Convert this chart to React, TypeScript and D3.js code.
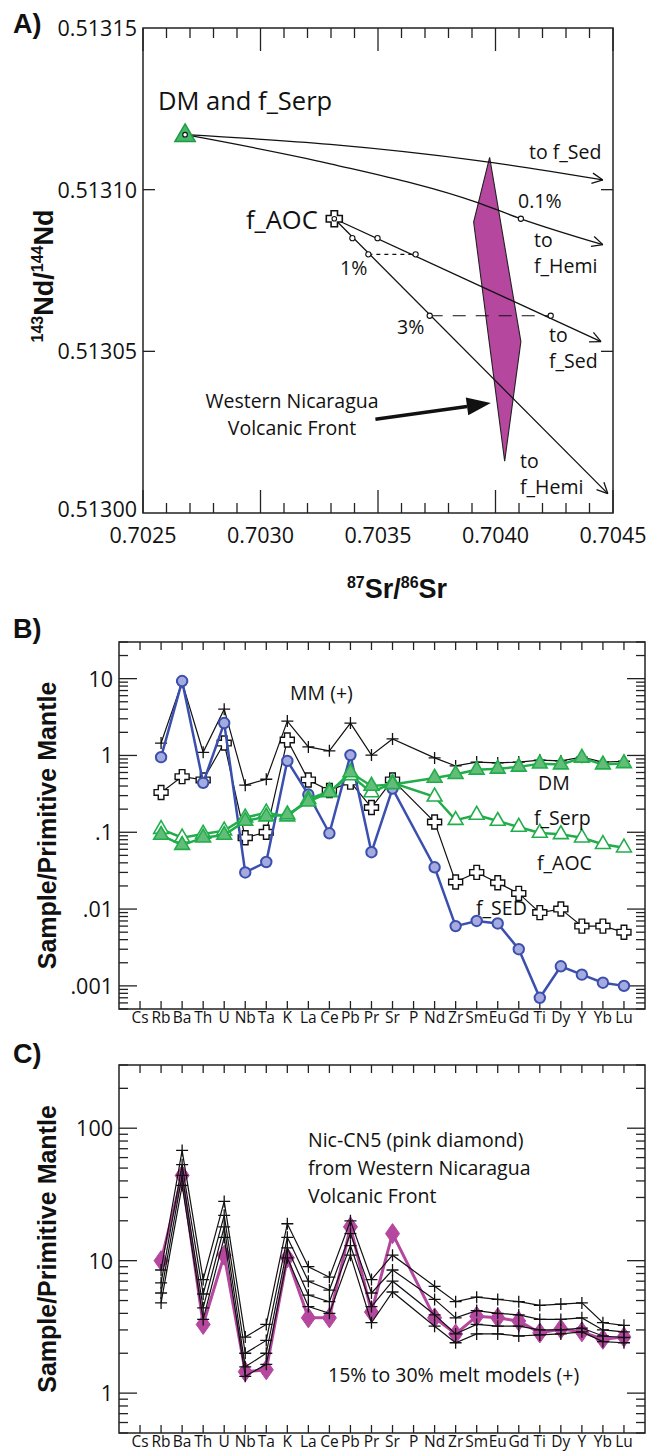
import React, { useEffect, useRef } from 'react';
import * as d3 from 'd3';

const SANS = "'Open Sans', 'Noto Sans', sans-serif";
const BOLD = "'Liberation Sans', Arial, sans-serif";

type Pt = [number, number];

// ---------- Panel A: 87Sr/86Sr vs 143Nd/144Nd ----------
const dmSource: Pt = [0.702679, 0.513117];
const aocSource: Pt = [0.703314, 0.513091];
const dmToSed: Pt[] = [
  [0.702679, 0.513117], [0.703297, 0.513114], [0.703924, 0.513109], [0.704457, 0.513103],
];
const dmToHemi: Pt[] = [
  [0.702679, 0.513117], [0.703297, 0.513108], [0.703924, 0.513096], [0.704108, 0.513091], [0.704457, 0.513083],
];
const aocToSed: Pt[] = [[0.703314, 0.513091], [0.704449, 0.513053]];
const aocToHemi: Pt[] = [[0.703314, 0.513091], [0.704478, 0.513006]];
const mixSteps: Pt[] = [
  [0.704108, 0.513091],
  [0.703498, 0.513085], [0.70366, 0.51308], [0.704235, 0.513061],
  [0.703391, 0.513085], [0.703459, 0.51308], [0.70372, 0.513061],
];
const tie1: Pt[] = [[0.703459, 0.51308], [0.70366, 0.51308]];
const tie3: Pt[] = [[0.70372, 0.513061], [0.704235, 0.513061]];
const wnvfField: Pt[] = [
  [0.703975, 0.51311], [0.704108, 0.513053], [0.704039, 0.513016], [0.703907, 0.51309],
];
const wnvfArrow: Pt[] = [[0.703489, 0.513029], [0.70398, 0.513034]];

// ---------- Panels B and C: spider diagrams ----------
const elements = ['Cs', 'Rb', 'Ba', 'Th', 'U', 'Nb', 'Ta', 'K', 'La', 'Ce', 'Pb', 'Pr', 'Sr', 'P',
  'Nd', 'Zr', 'Sm', 'Eu', 'Gd', 'Ti', 'Dy', 'Y', 'Yb', 'Lu'];

type V = number | null;
const mmValues: V[] = [null, 1.45, 9.0, 1.1, 4.0, 0.41, 0.49, 2.8, 1.29, 1.15, 2.64, 1.01, 1.64, null,
  0.93, 0.73, 0.82, 0.8, 0.82, 0.87, 0.85, 0.95, 0.82, 0.84];
const dmValues: V[] = [null, 0.092, 0.068, 0.085, 0.092, 0.14, 0.16, 0.17, 0.25, 0.33, 0.6, 0.4, 0.42, null,
  0.51, 0.57, 0.65, 0.67, 0.71, 0.78, 0.76, 0.93, 0.76, 0.79];
const serpValues: V[] = [null, 0.11, 0.085, 0.095, 0.105, 0.155, 0.18, 0.16, 0.27, 0.34, 0.55, 0.33, 0.44, null,
  0.29, 0.144, 0.168, 0.14, 0.117, 0.098, 0.094, 0.085, 0.07, 0.063];
const aocValues: V[] = [null, 0.33, 0.53, 0.48, 1.45, 0.085, 0.1, 1.59, 0.48, 0.35, 0.45, 0.21, 0.48, null,
  0.136, 0.0225, 0.03, 0.022, 0.016, 0.009, 0.01, 0.006, 0.006, 0.005];
const sedValues: V[] = [null, 0.95, 9.3, 0.44, 2.64, 0.03, 0.041, 0.85, 0.31, 0.097, 1.01, 0.055, 0.37, null,
  0.035, 0.006, 0.007, 0.0065, 0.003, 0.0007, 0.0018, 0.0014, 0.0011, 0.001];

const nicValues: V[] = [null, 10, 44, 3.3, 11, 1.45, 1.5, 10.5, 3.7, 3.7, 18, 4.1, 16, null,
  3.7, 2.8, 3.8, 3.7, 3.5, 2.85, 3.05, 2.9, 2.55, 2.65];
const melt15: V[] = [null, 8.5, 68, 7.2, 28, 2.65, 3.3, 19, 9.0, 7.5, 20, 7.2, 11, null,
  6.4, 4.9, 5.3, 5.1, 4.9, 4.6, 4.7, 4.8, 3.4, 3.25];
const melt20: V[] = [null, 6.8, 53, 5.6, 22, 2.0, 2.5, 15, 7.0, 6.0, 16, 5.7, 8.5, null,
  5.1, 3.7, 4.2, 4.0, 3.9, 3.6, 3.6, 3.7, 3.0, 2.9];
const melt25: V[] = [null, 5.7, 44, 4.4, 18, 1.58, 2.0, 12.5, 5.5, 4.9, 13, 4.5, 7.0, null,
  3.9, 2.8, 3.3, 3.2, 3.2, 3.0, 3.0, 3.1, 2.7, 2.63];
const melt30: V[] = [null, 4.8, 37, 3.6, 15, 1.34, 1.65, 10.5, 4.5, 4.0, 11, 3.4, 5.8, null,
  3.2, 2.4, 2.8, 2.8, 2.7, 2.75, 2.8, 2.9, 2.45, 2.4];

const bTickValues = [0.001, 0.01, 0.1, 1, 10];
const bTickLabels = ['.001', '.01', '.1', '1', '10'];
const cTickValues = [1, 10, 100];
const cTickLabels = ['1', '10', '100'];

const GREEN = '#22ad4b';
const BLUE = '#3a4fae';
const PINK = '#b5479f';

const plus = (s: number) => `M${-s},0H${s}M0,${-s}V${s}`;
const greek = (a: number, b: number) =>
  `M${-b},${-a}H${b}V${-b}H${a}V${b}H${b}V${a}H${-b}V${b}H${-a}V${-b}H${-b}Z`;
const diamond = (w: number, h: number) => `M0,${-h}L${w},0L0,${h}L${-w},0Z`;
const tri = (area: number) => d3.symbol(d3.symbolTriangle, area)() as string;

function text(g: any, x: number, y: number, s: string, size = 20, anchor = 'start') {
  return g.append('text').attr('x', x).attr('y', y).attr('font-family', SANS)
    .attr('font-size', size).attr('text-anchor', anchor).attr('fill', '#111').text(s);
}

function openArrow(g: any, p0: Pt, p1: Pt) {
  const ang = Math.atan2(p1[1] - p0[1], p1[0] - p0[0]);
  [0.45, -0.45].forEach(d => {
    g.append('line').attr('x1', p1[0]).attr('y1', p1[1])
      .attr('x2', p1[0] - 12 * Math.cos(ang + d)).attr('y2', p1[1] - 12 * Math.sin(ang + d))
      .attr('stroke', '#111').attr('stroke-width', 1.3);
  });
}

function drawA(svg: any) {
  const L = 143, R = 613, T = 28, B = 513;
  const x = d3.scaleLinear().domain([0.7025, 0.7045]).range([L, R]);
  const y = d3.scaleLinear().domain([0.513, 0.51315]).range([B, T]);
  const g = svg.append('g');

  g.append('rect').attr('x', L).attr('y', T).attr('width', R - L).attr('height', B - T)
    .attr('fill', 'none').attr('stroke', '#222').attr('stroke-width', 1.5);
  x.ticks(20).forEach((v, i) => {
    const len = i % 5 === 0 ? 23 : 10;
    g.append('line').attr('x1', x(v)).attr('x2', x(v)).attr('y1', T).attr('y2', T + len)
      .attr('stroke', '#222').attr('stroke-width', 1.3);
    g.append('line').attr('x1', x(v)).attr('x2', x(v)).attr('y1', B).attr('y2', B - len)
      .attr('stroke', '#222').attr('stroke-width', 1.3);
  });
  x.ticks(4).forEach(v => text(g, x(v), 543, d3.format('.4f')(v), 21.5, 'middle'));
  y.ticks(3).forEach(v => {
    if (v > 0.513 && v < 0.51315) {
      g.append('line').attr('x1', L).attr('x2', L + 12).attr('y1', y(v)).attr('y2', y(v))
        .attr('stroke', '#222').attr('stroke-width', 1.3);
      g.append('line').attr('x1', R).attr('x2', R - 12).attr('y1', y(v)).attr('y2', y(v))
        .attr('stroke', '#222').attr('stroke-width', 1.3);
    }
    text(g, L - 6, y(v) + (v === 0.513 ? 4 : 8), d3.format('.5f')(v), 21.5, 'end');
  });

  // field of Western Nicaragua volcanic front
  g.append('path').attr('d', d3.line()(wnvfField.map(p => [x(p[0]), y(p[1])]) as any) + 'Z')
    .attr('fill', PINK).attr('stroke', '#222').attr('stroke-width', 1.1);

  const line = d3.line<Pt>().x(d => x(d[0])).y(d => y(d[1]));
  const curve = d3.line<Pt>().x(d => x(d[0])).y(d => y(d[1])).curve(d3.curveMonotoneX);
  [dmToSed, dmToHemi].forEach(c => {
    g.append('path').attr('d', curve(c)).attr('fill', 'none').attr('stroke', '#111').attr('stroke-width', 1.3);
  });
  [aocToSed, aocToHemi].forEach(c => {
    g.append('path').attr('d', line(c)).attr('fill', 'none').attr('stroke', '#111').attr('stroke-width', 1.3);
  });
  [dmToSed, dmToHemi, aocToSed, aocToHemi].forEach(c => {
    const n = c.length;
    openArrow(g, [x(c[n - 2][0]), y(c[n - 2][1])], [x(c[n - 1][0]), y(c[n - 1][1])]);
  });
  g.append('path').attr('d', line(tie1)).attr('stroke', '#111').attr('stroke-width', 1.2)
    .attr('stroke-dasharray', '4,4');
  g.append('path').attr('d', line(tie3)).attr('stroke', '#111').attr('stroke-width', 1.2)
    .attr('stroke-dasharray', '13,10');

  mixSteps.forEach(p => {
    g.append('circle').attr('cx', x(p[0])).attr('cy', y(p[1])).attr('r', 2.6)
      .attr('fill', '#fff').attr('stroke', '#111').attr('stroke-width', 1.1);
  });

  // end-members
  g.append('path').attr('d', tri(180)).attr('transform', `translate(${x(dmSource[0])},${y(dmSource[1]) + 1})`)
    .attr('fill', '#45b869').attr('stroke', '#1f9a44').attr('stroke-width', 1.5);
  g.append('path').attr('d', greek(8, 3.2)).attr('transform', `translate(${x(aocSource[0])},${y(aocSource[1])})`)
    .attr('fill', '#fff').attr('stroke', '#111').attr('stroke-width', 1.6);
  [dmSource, aocSource].forEach(p => {
    g.append('circle').attr('cx', x(p[0])).attr('cy', y(p[1])).attr('r', 2.3)
      .attr('fill', '#fff').attr('stroke', '#111').attr('stroke-width', 1.1);
  });

  // arrow to the field
  const a0: Pt = [x(wnvfArrow[0][0]), y(wnvfArrow[0][1])];
  const a1: Pt = [x(wnvfArrow[1][0]), y(wnvfArrow[1][1])];
  const ang = Math.atan2(a1[1] - a0[1], a1[0] - a0[0]);
  const hb: Pt = [a1[0] - 24 * Math.cos(ang), a1[1] - 24 * Math.sin(ang)];
  g.append('line').attr('x1', a0[0]).attr('y1', a0[1]).attr('x2', hb[0]).attr('y2', hb[1])
    .attr('stroke', '#111').attr('stroke-width', 3.5);
  g.append('path').attr('d', `M${a1[0]},${a1[1]}L${hb[0] + 9 * Math.sin(ang)},${hb[1] - 9 * Math.cos(ang)}L${hb[0] - 9 * Math.sin(ang)},${hb[1] + 9 * Math.cos(ang)}Z`)
    .attr('fill', '#111');

  text(g, 158, 110, 'DM and f_Serp', 25.5);
  text(g, 246, 229, 'f_AOC', 25.5);
  text(g, 529, 159, 'to f_Sed', 19.5);
  text(g, 518, 208, '0.1%', 19.5);
  text(g, 534, 247, 'to', 19.5);
  text(g, 534, 273, 'f_Hemi', 19.5);
  text(g, 340, 275, '1%', 19.5);
  text(g, 397, 334, '3%', 19.5);
  text(g, 549, 342, 'to', 19.5);
  text(g, 549, 368, 'f_Sed', 19.5);
  text(g, 520, 468, 'to', 19.5);
  text(g, 520, 494, 'f_Hemi', 19.5);
  text(g, 292, 408, 'Western Nicaragua', 19.5, 'middle');
  text(g, 292, 435, 'Volcanic Front', 19.5, 'middle');

  const yl = g.append('text').attr('transform', 'translate(53,276) rotate(-90)')
    .attr('text-anchor', 'middle').attr('font-family', BOLD).attr('font-weight', 'bold').attr('fill', '#111');
  yl.append('tspan').attr('font-size', 16).attr('dy', -10).text('143');
  yl.append('tspan').attr('font-size', 27).attr('dy', 10).text('Nd/');
  yl.append('tspan').attr('font-size', 16).attr('dy', -10).text('144');
  yl.append('tspan').attr('font-size', 27).attr('dy', 10).text('Nd');

  const xl = g.append('text').attr('x', 397).attr('y', 598)
    .attr('text-anchor', 'middle').attr('font-family', BOLD).attr('font-weight', 'bold').attr('fill', '#111');
  xl.append('tspan').attr('font-size', 16).attr('dy', -10).text('87');
  xl.append('tspan').attr('font-size', 27).attr('dy', 10).text('Sr/');
  xl.append('tspan').attr('font-size', 16).attr('dy', -10).text('86');
  xl.append('tspan').attr('font-size', 27).attr('dy', 10).text('Sr');

  g.append('text').attr('x', 13).attr('y', 33).attr('font-family', BOLD).attr('font-weight', 'bold')
    .attr('font-size', 27).attr('fill', '#111').text('A)');
}

function spiderFrame(svg: any, T: number, B: number, domain: [number, number],
  tickValues: number[], tickLabels: string[], letter: string, letterY: number) {
  const L = 119, R = 645;
  const x = d3.scalePoint<string>().domain(elements).range([L, R]).padding(1);
  const y = d3.scaleLog().domain(domain).range([B, T]);
  const g = svg.append('g');
  g.append('rect').attr('x', L).attr('y', T).attr('width', R - L).attr('height', B - T)
    .attr('fill', 'none').attr('stroke', '#222').attr('stroke-width', 1.5);
  elements.forEach(e => {
    g.append('line').attr('x1', x(e)).attr('x2', x(e)).attr('y1', T).attr('y2', T + 8)
      .attr('stroke', '#222').attr('stroke-width', 1.3);
    g.append('line').attr('x1', x(e)).attr('x2', x(e)).attr('y1', B).attr('y2', B - 8)
      .attr('stroke', '#222').attr('stroke-width', 1.3);
    g.append('text').attr('x', x(e)).attr('y', B + 14).attr('text-anchor', 'middle')
      .attr('font-family', SANS).attr('font-size', 15.5).attr('fill', '#111').text(e);
  });
  y.ticks().forEach(v => {
    const major = Math.abs(Math.log10(v) - Math.round(Math.log10(v))) < 1e-6;
    const len = major ? 18 : 9;
    g.append('line').attr('x1', L).attr('x2', L + len).attr('y1', y(v)).attr('y2', y(v))
      .attr('stroke', '#222').attr('stroke-width', 1.3);
    g.append('line').attr('x1', R).attr('x2', R - len).attr('y1', y(v)).attr('y2', y(v))
      .attr('stroke', '#222').attr('stroke-width', 1.3);
  });
  tickValues.forEach((v, i) => {
    g.append('text').attr('x', L - 6).attr('y', y(v) + 8).attr('text-anchor', 'end')
      .attr('font-family', SANS).attr('font-size', 21.5).attr('fill', '#111').text(tickLabels[i]);
  });
  g.append('text').attr('transform', `translate(56,${(T + B) / 2}) rotate(-90)`)
    .attr('text-anchor', 'middle').attr('font-family', BOLD).attr('font-weight', 'bold')
    .attr('font-size', 25).attr('fill', '#111').text('Sample/Primitive Mantle');
  g.append('text').attr('x', 13).attr('y', letterY).attr('font-family', BOLD).attr('font-weight', 'bold')
    .attr('font-size', 27).attr('fill', '#111').text(letter);
  return { g, x, y };
}

function series(g: any, x: any, y: any, values: V[], o: any) {
  const pts = elements.map((e, i) => [e, values[i]] as [string, V]).filter(d => d[1] != null) as [string, number][];
  g.append('path').attr('d', d3.line<[string, number]>().x(d => x(d[0])).y(d => y(d[1]))(pts))
    .attr('fill', 'none').attr('stroke', o.line).attr('stroke-width', o.lw);
  g.append('g').selectAll('path').data(pts).enter().append('path')
    .attr('transform', (d: any) => `translate(${x(d[0])},${y(d[1])})`)
    .attr('d', o.symbol).attr('fill', o.fill).attr('stroke', o.stroke).attr('stroke-width', o.sw);
}

function drawB(svg: any) {
  const { g, x, y } = spiderFrame(svg, 642, 1009, [0.0005, 30], bTickValues, bTickLabels, 'B)', 638);
  series(g, x, y, mmValues, { line: '#111', lw: 1.2, symbol: plus(6), fill: 'none', stroke: '#111', sw: 1.3 });
  series(g, x, y, aocValues, { line: '#111', lw: 1.2, symbol: greek(7, 2.8), fill: '#fff', stroke: '#111', sw: 1.4 });
  series(g, x, y, sedValues, { line: BLUE, lw: 2.5, symbol: d3.symbol(d3.symbolCircle, 85)(), fill: '#a6abdf', stroke: BLUE, sw: 2 });
  series(g, x, y, serpValues, { line: GREEN, lw: 2.5, symbol: tri(95), fill: '#fff', stroke: GREEN, sw: 1.6 });
  series(g, x, y, dmValues, { line: GREEN, lw: 2.5, symbol: tri(95), fill: '#62bd79', stroke: GREEN, sw: 1.6 });
  text(g, 290, 700, 'MM (+)', 19.5);
  text(g, 538, 790, 'DM', 19.5);
  text(g, 534, 825, 'f_Serp', 19.5);
  text(g, 537, 870, 'f_AOC', 19.5);
  text(g, 476, 915, 'f_SED', 19.5);
}

function drawC(svg: any) {
  const { g, x, y } = spiderFrame(svg, 1065, 1433, [0.5, 300], cTickValues, cTickLabels, 'C)', 1063);
  series(g, x, y, nicValues, { line: PINK, lw: 3, symbol: diamond(7, 10), fill: PINK, stroke: PINK, sw: 1 });
  [melt15, melt20, melt25, melt30].forEach(m => {
    series(g, x, y, m, { line: '#111', lw: 1.2, symbol: plus(6), fill: 'none', stroke: '#111', sw: 1.3 });
  });
  text(g, 308, 1147, 'Nic-CN5 (pink diamond)', 19.5);
  text(g, 308, 1175, 'from Western Nicaragua', 19.5);
  text(g, 308, 1203, 'Volcanic Front', 19.5);
  text(g, 328, 1382, '15% to 30% melt models (+)', 19.5);
}

export default function App() {
  const ref = useRef<SVGSVGElement>(null);
  useEffect(() => {
    const svg = d3.select(ref.current);
    svg.selectAll('*').remove();
    drawA(svg);
    drawB(svg);
    drawC(svg);
  }, []);
  return (
    <svg ref={ref} width={660} height={1452}
      style={{ position: 'absolute', left: 0, top: 0, background: '#fff', display: 'block' }} />
  );
}
